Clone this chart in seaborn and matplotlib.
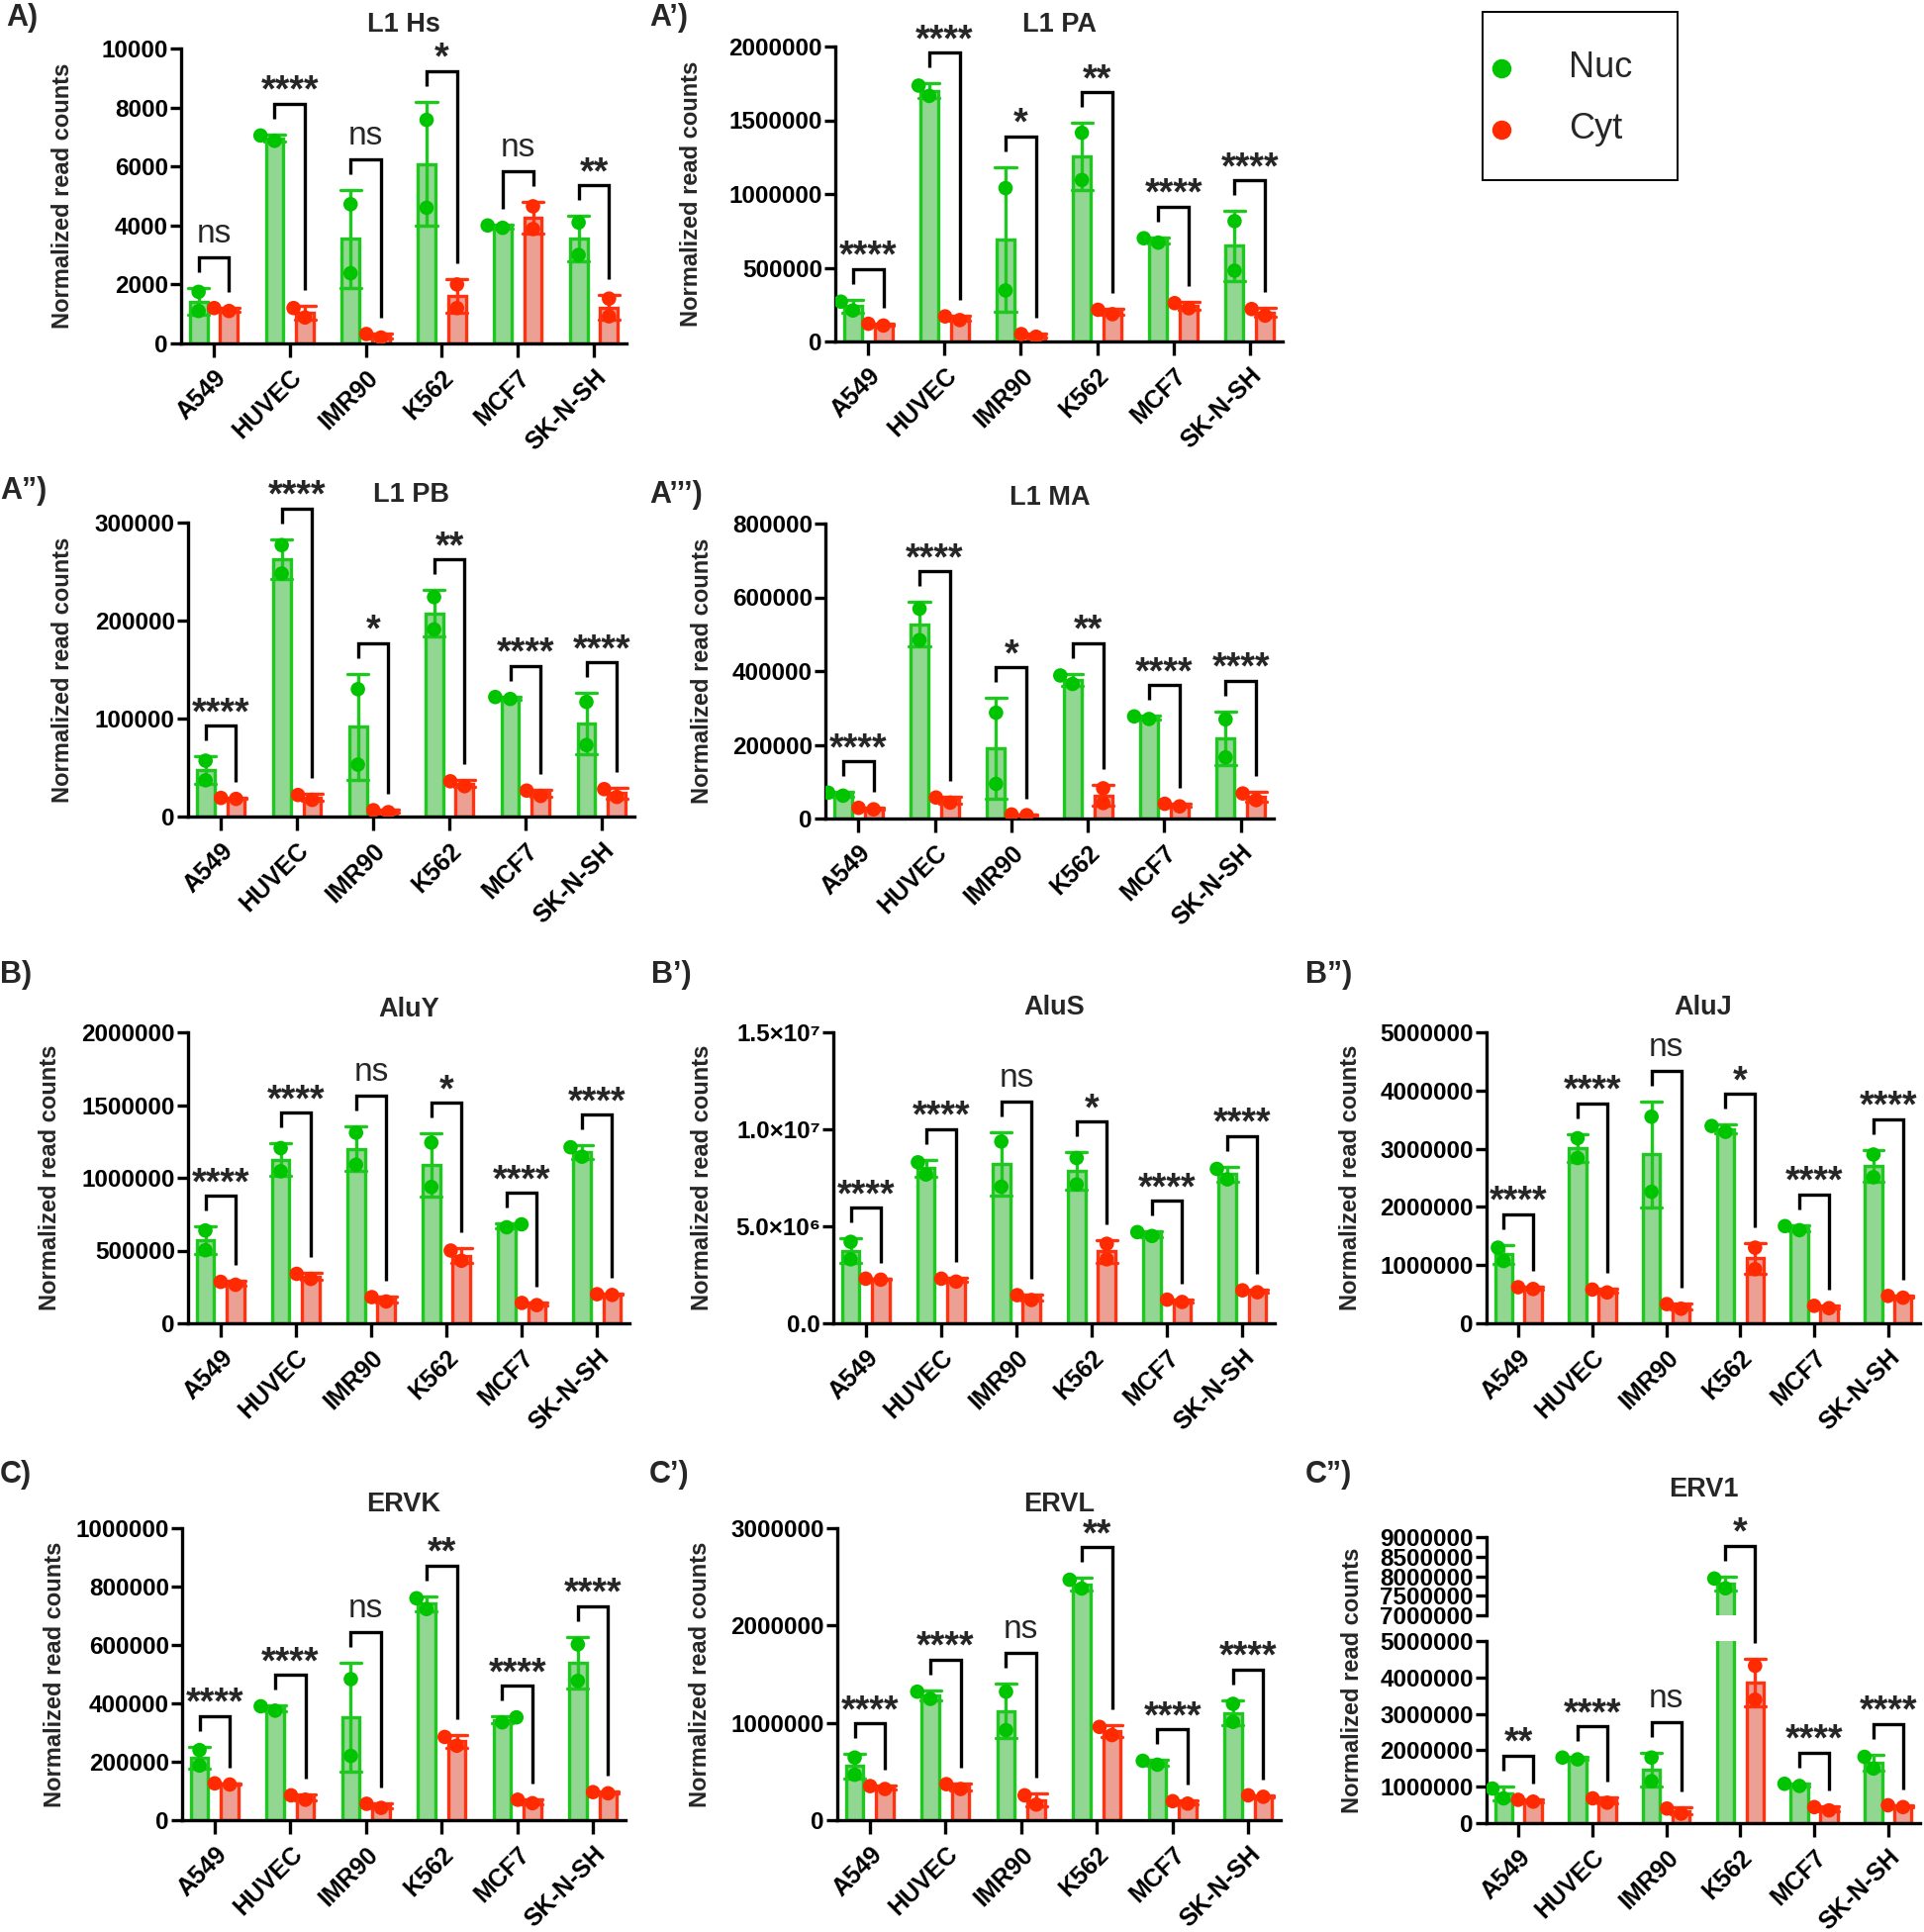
import warnings
warnings.filterwarnings("ignore")
import numpy as np
import pandas as pd
import matplotlib
matplotlib.use("Agg")
import matplotlib.pyplot as plt
import matplotlib.transforms as mtransforms
from matplotlib.lines import Line2D
from matplotlib.patches import Rectangle
import seaborn as sns

# ---------------------------------------------------------------- data
CELLS = ["A549", "HUVEC", "IMR90", "K562", "MCF7", "SK-N-SH"]
FRACTIONS = ["Nuc", "Cyt"]
YLABEL = "Normalized read counts"

# two replicates per cell line
L1HS_NUC = [[1750, 1100], [7050, 6870], [4720, 2380], [7580, 4600], [3920, 4000], [4100, 3000]]
L1HS_CYT = [[1100, 1200], [1200, 880], [200, 320], [2000, 1200], [4650, 3880], [1520, 920]]
L1HS_SIG = ["ns", "****", "ns", "*", "ns", "**"]
L1HS_TICKS = [0, 2000, 4000, 6000, 8000, 10000]

L1PA_NUC = [[270000, 210000], [1735000, 1665000], [1040000, 346000], [1415000, 1095000], [670000, 700000], [816000, 480000]]
L1PA_CYT = [[108000, 120000], [145000, 170000], [32000, 50000], [185000, 215000], [225000, 260000], [175000, 220000]]
L1PA_SIG = ["****", "****", "*", "**", "****", "****"]
L1PA_TICKS = [0, 500000, 1000000, 1500000, 2000000]

L1PB_NUC = [[57000, 37000], [277000, 248000], [130000, 53000], [224000, 191000], [120000, 122000], [117000, 73000]]
L1PB_CYT = [[18000, 19000], [17000, 22000], [4500, 6500], [31000, 36000], [21000, 26500], [20000, 28000]]
L1PB_SIG = ["****", "****", "*", "**", "****", "****"]
L1PB_TICKS = [0, 100000, 200000, 300000]

L1MA_NUC = [[62000, 70000], [569000, 484000], [287000, 94000], [365000, 388000], [270000, 277000], [269000, 166000]]
L1MA_CYT = [[25000, 29000], [43000, 57000], [9000, 11000], [82000, 42000], [33000, 40000], [50000, 68000]]
L1MA_SIG = ["****", "****", "*", "**", "****", "****"]
L1MA_TICKS = [0, 200000, 400000, 600000, 800000]

ALUY_NUC = [[638000, 502000], [1204000, 1045000], [1310000, 1090000], [1242000, 937000], [660000, 680000], [1145000, 1210000]]
ALUY_CYT = [[265000, 285000], [305000, 340000], [150000, 180000], [430000, 500000], [125000, 140000], [195000, 200000]]
ALUY_SIG = ["****", "****", "ns", "*", "****", "****"]
ALUY_TICKS = [0, 500000, 1000000, 1500000, 2000000]

ALUS_NUC = [[4.2e6, 3.3e6], [8.3e6, 7.67e6], [9.37e6, 7.04e6], [8.52e6, 7.16e6], [4.5e6, 4.7e6], [7.96e6, 7.42e6]]
ALUS_CYT = [[2.25e6, 2.3e6], [2.15e6, 2.3e6], [1.2e6, 1.45e6], [4.1e6, 3.3e6], [1.1e6, 1.22e6], [1.6e6, 1.7e6]]
ALUS_SIG = ["****", "****", "ns", "*", "****", "****"]
ALUS_TICKS = [0, 5e6, 1e7, 1.5e7]
ALUS_TICKLABELS = ["0.0", "5.0×10⁶", "1.0×10⁷", "1.5×10⁷"]

ALUJ_NUC = [[1.30e6, 1.07e6], [3.18e6, 2.84e6], [3.55e6, 2.26e6], [3.29e6, 3.39e6], [1.60e6, 1.67e6], [2.90e6, 2.51e6]]
ALUJ_CYT = [[0.59e6, 0.62e6], [0.53e6, 0.58e6], [0.25e6, 0.33e6], [1.30e6, 0.93e6], [0.26e6, 0.30e6], [0.44e6, 0.47e6]]
ALUJ_SIG = ["****", "****", "ns", "*", "****", "****"]
ALUJ_TICKS = [0, 1000000, 2000000, 3000000, 4000000, 5000000]

ERVK_NUC = [[240000, 187000], [375000, 390000], [483000, 220000], [723000, 760000], [335000, 352000], [602000, 477000]]
ERVK_CYT = [[122000, 126000], [70000, 85000], [42000, 56000], [255000, 285000], [58000, 70000], [92000, 96000]]
ERVK_SIG = ["****", "****", "ns", "**", "****", "****"]
ERVK_TICKS = [0, 200000, 400000, 600000, 800000, 1000000]

ERVL_NUC = [[643000, 467000], [1246000, 1320000], [1320000, 925000], [2380000, 2470000], [570000, 610000], [1195000, 1010000]]
ERVL_CYT = [[320000, 350000], [320000, 370000], [255000, 160000], [874000, 958000], [170000, 195000], [240000, 255000]]
ERVL_SIG = ["****", "****", "ns", "**", "****", "****"]
ERVL_TICKS = [0, 1000000, 2000000, 3000000]

ERV1_NUC = [[950000, 680000], [1750000, 1800000], [1800000, 1150000], [7690000, 7940000], [1020000, 1080000], [1500000, 1820000]]
ERV1_CYT = [[590000, 640000], [560000, 680000], [260000, 400000], [4320000, 3390000], [350000, 440000], [440000, 490000]]
ERV1_SIG = ["**", "****", "ns", "*", "****", "****"]
ERV1_TICKS_LOW = [0, 1000000, 2000000, 3000000, 4000000, 5000000]
ERV1_TICKS_HIGH = [7000000, 7500000, 8000000, 8500000, 9000000]

# ---------------------------------------------------------------- style
sns.set_style("ticks")
plt.rcParams["font.family"] = ["Liberation Sans", "DejaVu Sans"]
plt.rcParams["axes.edgecolor"] = "black"
plt.rcParams["xtick.color"] = "black"
plt.rcParams["ytick.color"] = "black"

FILL = {"Nuc": "#86e186", "Cyt": "#fb9585"}
EDGE = {"Nuc": "#1ec81e", "Cyt": "#ff3311"}
POINT = {"Nuc": "#00c400", "Cyt": "#ff2a00"}
LW = 2.4
YTICK_FS = 17.5
XTICK_FS = 18
TITLE_FS = 19.5
YLABEL_FS = 17

W, H = 1944, 1952
fig = plt.figure(figsize=(W / 100, H / 100), dpi=100)
INV = fig.transFigure.inverted()


def px_rect(l, t, r, b):
    return [l / W, 1 - b / H, (r - l) / W, (b - t) / H]


def fxy(x, y):
    return x / W, 1 - y / H


def make_df(nuc, cyt):
    rows = []
    for cell, n, c in zip(CELLS, nuc, cyt):
        for v in n:
            rows.append((cell, "Nuc", v))
        for v in c:
            rows.append((cell, "Cyt", v))
    return pd.DataFrame(rows, columns=["cell", "fraction", "value"])


def side(cx):
    return "Nuc" if cx < round(cx) else "Cyt"


def draw_data(ax, df):
    sns.barplot(data=df, x="cell", y="value", hue="fraction", order=CELLS,
                hue_order=FRACTIONS, palette=FILL, errorbar="sd", capsize=0.55,
                gap=0.42, linewidth=LW, err_kws={"linewidth": LW},
                legend=False, ax=ax)
    for p in ax.patches:
        p.set_edgecolor(EDGE[side(p.get_x() + p.get_width() / 2)])
        p.set_zorder(2)
    for ln in ax.lines:
        xs = np.asarray(ln.get_xdata(), float)
        xs = xs[np.isfinite(xs)]
        if xs.size:
            ln.set_color(EDGE[side(xs.mean())])
            ln.set_zorder(3)
    sns.swarmplot(data=df, x="cell", y="value", hue="fraction", order=CELLS,
                  hue_order=FRACTIONS, palette=POINT, dodge=True, size=10.5,
                  linewidth=0, legend=False, ax=ax, zorder=4)


def style_axes(ax, ticks, labels, bottom=True):
    ax.set_xlim(-0.43, 5.43)
    ax.set_ylim(ticks[0], ticks[-1])
    ax.set_yticks(ticks)
    ax.set_yticklabels(labels, fontweight="bold", fontsize=YTICK_FS)
    ax.set_xlabel("")
    ax.set_ylabel("")
    for s in ["top", "right"]:
        ax.spines[s].set_visible(False)
    ax.spines["left"].set_linewidth(LW)
    ax.spines["bottom"].set_linewidth(LW)
    ax.tick_params(axis="y", length=8, width=LW, pad=1.5)
    if bottom:
        ax.set_xticks(range(len(CELLS)))
        ax.set_xticklabels(CELLS, rotation=45, ha="right", va="top",
                           rotation_mode="anchor", fontweight="bold", fontsize=XTICK_FS)
        ax.tick_params(axis="x", length=10, width=LW, pad=6)
    else:
        ax.spines["bottom"].set_visible(False)
        ax.tick_params(axis="x", bottom=False, labelbottom=False)


def add_brackets(nuc, cyt, sig, to_disp):
    for i, (n, c, s) in enumerate(zip(nuc, cyt, sig)):
        tn = np.mean(n) + np.std(n, ddof=1)
        tc = np.mean(c) + np.std(c, ddof=1)
        xn, yn = to_disp(i - 0.2, tn)
        xc, yc = to_disp(i + 0.2, tc)
        yb = max(yn, yc) + 31
        pts = INV.transform([(xn, yn + 16), (xn, yb), (xc, yb), (xc, yc + 16)])
        fig.add_artist(Line2D(pts[:, 0], pts[:, 1], transform=fig.transFigure,
                              color="black", lw=LW, solid_joinstyle="miter",
                              solid_capstyle="butt"))
        if s == "ns":
            tx, ty = INV.transform(((xn + xc) / 2, yb + 15))
            fig.text(tx, ty, s, ha="center", va="baseline", fontsize=24,
                     fontweight="normal")
        else:
            tx, ty = INV.transform(((xn + xc) / 2, yb + 2))
            fig.text(tx, ty, s, ha="center", va="baseline", fontsize=27,
                     fontweight="bold")


def title_and_label(ax, title, title_off, ylab_off, width_px):
    tr = mtransforms.offset_copy(ax.transAxes, fig=fig, y=title_off, units="dots")
    ax.text(0.5, 1.0, title, transform=tr, ha="center", va="center",
            fontsize=TITLE_FS, fontweight="bold")
    ax.set_ylabel(YLABEL, fontsize=YLABEL_FS, fontweight="bold")
    # label coordinate refers to the label's inner edge; centre it at ylab_off
    ax.yaxis.set_label_coords(-(ylab_off - 12) / width_px, 0.5)


def int_labels(ticks):
    return [str(int(t)) for t in ticks]


# ---------------------------------------------------------------- normal panels
PANELS = [
    ("L1 Hs", L1HS_NUC, L1HS_CYT, L1HS_SIG, L1HS_TICKS, int_labels(L1HS_TICKS), (183, 49, 633, 347), 120, 24),
    ("L1 PA", L1PA_NUC, L1PA_CYT, L1PA_SIG, L1PA_TICKS, int_labels(L1PA_TICKS), (844, 47, 1296, 345), 146, 22),
    ("L1 PB", L1PB_NUC, L1PB_CYT, L1PB_SIG, L1PB_TICKS, int_labels(L1PB_TICKS), (190, 528, 641, 825), 127, 28),
    ("L1 MA", L1MA_NUC, L1MA_CYT, L1MA_SIG, L1MA_TICKS, int_labels(L1MA_TICKS), (834, 529, 1287, 827), 125, 26),
    ("AluY", ALUY_NUC, ALUY_CYT, ALUY_SIG, ALUY_TICKS, int_labels(ALUY_TICKS), (190, 1043, 636, 1337), 140, 23),
    ("AluS", ALUS_NUC, ALUS_CYT, ALUS_SIG, ALUS_TICKS, ALUS_TICKLABELS, (842, 1043, 1288, 1337), 133, 25),
    ("AluJ", ALUJ_NUC, ALUJ_CYT, ALUJ_SIG, ALUJ_TICKS, int_labels(ALUJ_TICKS), (1502, 1043, 1940, 1337), 138, 25),
    ("ERVK", ERVK_NUC, ERVK_CYT, ERVK_SIG, ERVK_TICKS, int_labels(ERVK_TICKS), (184, 1544, 632, 1839), 129, 24),
    ("ERVL", ERVL_NUC, ERVL_CYT, ERVL_SIG, ERVL_TICKS, int_labels(ERVL_TICKS), (846, 1544, 1294, 1839), 139, 24),
]

for title, nuc, cyt, sig, ticks, labels, r, ylo, toff in PANELS:
    ax = fig.add_axes(px_rect(*r))
    draw_data(ax, make_df(nuc, cyt))
    style_axes(ax, ticks, labels)
    title_and_label(ax, title, toff, ylo, r[2] - r[0])
    add_brackets(nuc, cyt, sig, lambda x, y, a=ax: tuple(a.transData.transform((x, y))))

# ---------------------------------------------------------------- broken-axis panel (ERV1)
r_low = (1502, 1658, 1940, 1842)
r_high = (1502, 1553, 1940, 1632)
ax_lo = fig.add_axes(px_rect(*r_low))
ax_hi = fig.add_axes(px_rect(*r_high))
erv1_df = make_df(ERV1_NUC, ERV1_CYT)
draw_data(ax_lo, erv1_df)
draw_data(ax_hi, erv1_df)
style_axes(ax_lo, ERV1_TICKS_LOW, int_labels(ERV1_TICKS_LOW))
style_axes(ax_hi, ERV1_TICKS_HIGH, int_labels(ERV1_TICKS_HIGH), bottom=False)
ax_hi.text(0.5, 1.0, "ERV1",
           transform=mtransforms.offset_copy(ax_hi.transAxes, fig=fig, y=48, units="dots"),
           ha="center", va="center", fontsize=TITLE_FS, fontweight="bold")
fig.text(*fxy(1502 - 136, (1553 + 1842) / 2), YLABEL, rotation=90, ha="center",
         va="center", fontsize=YLABEL_FS, fontweight="bold")


def erv1_disp(x, y):
    a = ax_hi if y > 6e6 else ax_lo
    return tuple(a.transData.transform((x, y)))


add_brackets(ERV1_NUC, ERV1_CYT, ERV1_SIG, erv1_disp)

# ---------------------------------------------------------------- panel letters
LETTERS = [("A)", 6, 18), ("A’)", 656, 18), ("A”)", 0, 496), ("A’’’)", 656, 500),
           ("B)", 0, 985), ("B’)", 658, 985), ("B”)", 1319, 985),
           ("C)", 0, 1490), ("C’)", 656, 1490), ("C”)", 1319, 1490)]
for txt, x, y in LETTERS:
    fig.text(*fxy(x, y), txt, ha="left", va="center", fontsize=22, fontweight="bold")

# ---------------------------------------------------------------- legend
l0, t0, r0, b0 = 1498, 12, 1695, 182
fig.add_artist(Rectangle(fxy(l0, b0), (r0 - l0) / W, (b0 - t0) / H,
                         transform=fig.transFigure, fill=False, edgecolor="black", lw=1.4))
for name, yy in zip(FRACTIONS, [69, 131]):
    mx, my = fxy(1517, yy)
    fig.add_artist(Line2D([mx], [my], transform=fig.transFigure, marker="o",
                          markersize=13, color=POINT[name], linestyle="none"))
    fig.text(*fxy(1585, yy), name, ha="left", va="center", fontsize=26)

fig.savefig("out.png", dpi=100)
